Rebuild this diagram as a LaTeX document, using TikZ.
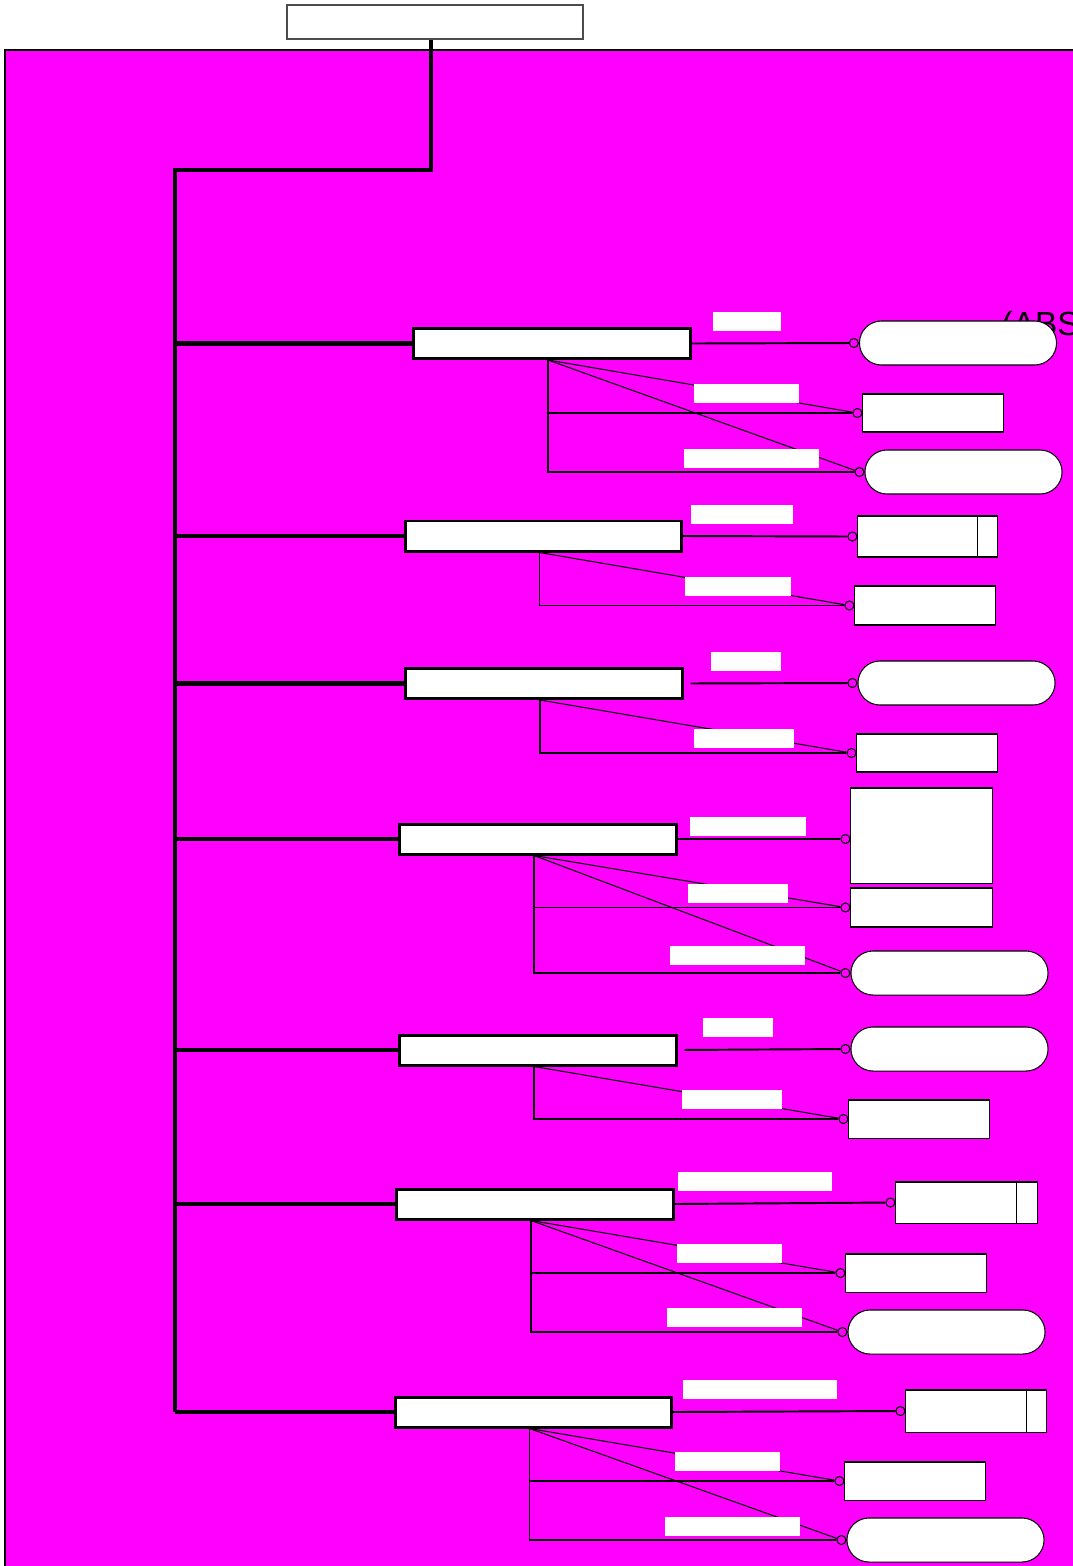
\documentclass[tikz,border=0pt]{standalone}
\usepackage{fontspec}
\setmainfont{Liberation Sans}
\usetikzlibrary{calc}
\definecolor{mag}{RGB}{255,0,255}
\tikzstyle{ent}=[draw, line width=0.85pt, fill=white, minimum width=2.76cm, minimum height=0.3cm, inner sep=0]
\tikzstyle{obj}=[draw, line width=0.3pt, fill=white, minimum width=1.4cm, minimum height=0.38cm, inner sep=0]
\tikzstyle{rnd}=[obj, minimum width=1.97cm, minimum height=0.44cm, rounded corners=0.22cm]
\tikzstyle{lbl}=[fill=white, minimum height=0.19cm, inner sep=0]
\tikzstyle{ring}=[shape=circle, draw, fill=mag, minimum size=0.09cm, inner sep=0, line width=0.3pt, anchor=east]
\tikzstyle{trunk}=[line width=1.3pt]
\tikzstyle{rel}=[line width=0.55pt]
\tikzstyle{lnk}=[line width=0.3pt]

\begin{document}
\begin{tikzpicture}[x=0.01cm, y=-0.01cm]
\clip (0,0) rectangle (1073,1566);
\fill[white] (0,0) rectangle (1073,1566);
\draw[fill=mag, line width=0.3pt] (5,50) rectangle (1100,1600);
\node at (435,22)[draw=black!70, fill=white, line width=0.4pt, minimum width=2.96cm, minimum height=0.34cm, inner sep=0](top){};
\node at (1001,335)[anchor=base west, inner sep=0, font=\fontsize{9.5}{11}\selectfont](abs){(ABS};
% entities
\node at (552,343.5)[ent](e1){};
\node at (543.5,536)[ent](e2){};
\node at (544,683.5)[ent](e3){};
\node at (538,839)[ent](e4){};
\node at (538,1050)[ent](e5){};
\node at (535,1204)[ent](e6){};
\node at (533.5,1412)[ent](e7){};
% objects
\node at (958,343)[rnd](o1a){};
\node at (933,413)[obj](o1b){};
\node at (963.5,472)[rnd](o1c){};
\node at (927.5,536.5)[obj, minimum width=1.39cm, minimum height=0.41cm](o2a){};
\node at (925,605.5)[obj, minimum height=0.39cm](o2b){};
\node at (956.5,683)[rnd](o3a){};
\node at (927,753)[obj](o3b){};
\node at (921.5,835.5)[obj, minimum width=1.41cm, minimum height=0.95cm](o4a){};
\node at (921.5,907.5)[obj, minimum width=1.41cm, minimum height=0.39cm](o4b){};
\node at (949.5,973)[rnd](o4c){};
\node at (949.5,1049)[rnd](o5a){};
\node at (919,1119)[obj](o5b){};
\node at (966.5,1202.5)[obj, minimum width=1.41cm, minimum height=0.41cm](o6a){};
\node at (916,1273)[obj](o6b){};
\node at (946.5,1332)[rnd](o6c){};
\node at (976,1411)[obj, minimum height=0.42cm](o7a){};
\node at (915,1481)[obj](o7b){};
\node at (945.5,1540)[rnd](o7c){};
\draw[lnk] ([xshift=-0.2cm]o2a.north east) -- ([xshift=-0.2cm]o2a.south east);
\draw[lnk] ([xshift=-0.21cm]o6a.north east) -- ([xshift=-0.21cm]o6a.south east);
\draw[lnk] ([xshift=-0.2cm]o7a.north east) -- ([xshift=-0.2cm]o7a.south east);
% circles
\node at (o1a.west)[ring](c1a){};
\node at (o1b.west)[ring](c1b){};
\node at (o1c.west)[ring](c1c){};
\node at (o2a.west)[ring](c2a){};
\node at (o2b.west)[ring](c2b){};
\node at (o3a.west)[ring](c3a){};
\node at (o3b.west)[ring](c3b){};
\node at (o4a.west |- e4.east)[ring](c4a){};
\node at (o4b.west)[ring](c4b){};
\node at (o4c.west)[ring](c4c){};
\node at (o5a.west)[ring](c5a){};
\node at (o5b.west)[ring](c5b){};
\node at (o6a.west)[ring](c6a){};
\node at (o6b.west)[ring](c6b){};
\node at (o6c.west)[ring](c6c){};
\node at (o7a.west)[ring](c7a){};
\node at (o7b.west)[ring](c7b){};
\node at (o7c.west)[ring](c7c){};
% trunk
\coordinate (tp) at ($(top.south)+(-4,0)$);
\coordinate (tr) at (175,170);
\draw[trunk] (tp) |- (tr) -- (tr |- e7.west);
\foreach \i in {1,...,7} {\draw[trunk] (tr |- e\i.west) -- (e\i.west);}
% relations
\foreach \i in {1,...,7} {\coordinate (s\i) at ($(e\i.south)+(-4,0)$);}
\draw[rel] (e1.east) -- (c1a);
\draw[rel] (e2.east) -- (c2a);
\draw[rel, shorten <=2pt] (e3.east) -- (c3a);
\draw[rel] (e4.east) -- (c4a);
\draw[rel, shorten <=2pt] (e5.east) -- (c5a);
\draw[rel] (e6.east) -- (c6a);
\draw[rel] (e7.east) -- (c7a);
\foreach \a/\b in {1/1b,1/1c,2/2b,3/3b,4/4b,4/4c,5/5b,6/6b,6/6c,7/7b,7/7c} {
  \draw[lnk] (s\a) -- (c\b);
  \draw[lnk] (s\a) |- (c\b);
}
% labels
\node at (747,321.5)[lbl, minimum width=0.68cm](l1a){};
\node at (746.5,393.5)[lbl, minimum width=1.05cm](l1b){};
\node at (751.5,458)[lbl, minimum width=1.35cm](l1c){};
\node at (742,514)[lbl, minimum width=1.02cm](l2a){};
\node at (738,586)[lbl, minimum width=1.06cm](l2b){};
\node at (746,661.5)[lbl, minimum width=0.7cm](l3a){};
\node at (744,738.5)[lbl, minimum width=1cm](l3b){};
\node at (748,826.5)[lbl, minimum width=1.16cm](l4a){};
\node at (738,893.5)[lbl, minimum width=1cm](l4b){};
\node at (737.5,955.5)[lbl, minimum width=1.35cm](l4c){};
\node at (738,1027.5)[lbl, minimum width=0.7cm](l5a){};
\node at (732,1099.5)[lbl, minimum width=1cm](l5b){};
\node at (755,1181.5)[lbl, minimum width=1.54cm](l6a){};
\node at (729.5,1253.5)[lbl, minimum width=1.05cm](l6b){};
\node at (734.5,1317.5)[lbl, minimum width=1.35cm](l6c){};
\node at (760,1389.5)[lbl, minimum width=1.54cm](l7a){};
\node at (727.5,1461.5)[lbl, minimum width=1.05cm](l7b){};
\node at (732.5,1526.5)[lbl, minimum width=1.35cm](l7c){};
\end{tikzpicture}
\end{document}
